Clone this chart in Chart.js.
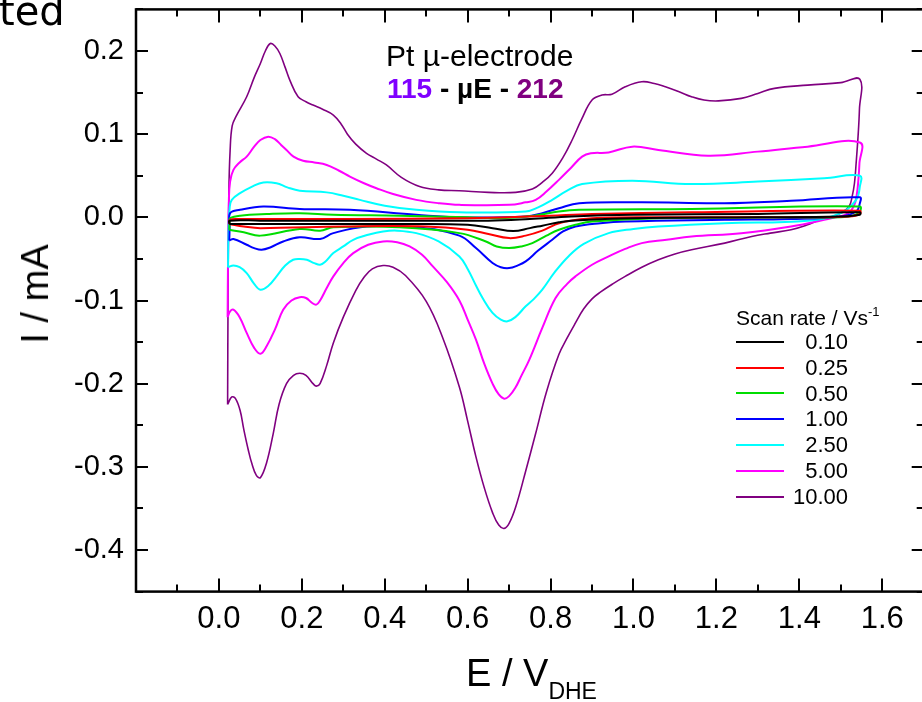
<!DOCTYPE html>
<html>
<head>
<meta charset="utf-8">
<script src="https://cdn.jsdelivr.net/npm/chart.js@4.4.0/dist/chart.umd.min.js"></script>
<style>
  body { margin: 0; width: 922px; height: 702px; overflow: hidden; position: relative; background: #fff;
         font-family: "Liberation Sans", Arial, sans-serif; }
  #wrap { position: absolute; left: 0; top: 0; width: 930px; height: 702px; }
  .txt { position: absolute; white-space: nowrap; color: #000; line-height: 1; }
  .sw { position: absolute; width: 48px; height: 2px; }
</style>
</head>
<body>
<div id="wrap"><canvas id="cv" width="930" height="702"></canvas></div>

<div class="txt" style="left:-1px; top:-9px; font-family:'DejaVu Sans'; font-size:40px;">ted</div>
<div class="txt" style="left:386px; top:41px; font-size:30px;">Pt µ-electrode</div>
<div class="txt" style="left:387px; top:75px; font-size:28px; font-weight:bold;"><span style="color:#7f00ff">115</span> - µE - <span style="color:#800080">212</span></div>
<div class="txt" style="left:35px; top:294px; font-size:38px; transform:translate(-50%,-50%) rotate(-90deg);">I / mA</div>
<div class="txt" style="left:466px; top:654px; font-size:38px;">E / V<span style="font-size:23px; vertical-align:-13px;">DHE</span></div>
<div class="txt" style="left:736px; top:305px; font-size:21px;">Scan rate / Vs<span style="font-size:13px; vertical-align:9px;">-1</span></div>
<div id="legend"></div>

<script>
// scan rates (V/s) and line colours
const scanRates = ['0.10', '0.25', '0.50', '1.00', '2.50', '5.00', '10.00'];
const lineColors = ['#000000', '#ff0000', '#00dd00', '#0000ff', '#00ffff', '#ff00ff', '#800080'];

// axis ticks
const xTickLabels = [0.0, 0.2, 0.4, 0.6, 0.8, 1.0, 1.2, 1.4, 1.6];
const yTickLabels = [-0.4, -0.3, -0.2, -0.1, 0.0, 0.1, 0.2];

// cyclic voltammograms [E / V, I / mA], anodic sweep then cathodic sweep
const cv010 = [[0.025, -0.008], [0.026, -0.004], [0.1, -0.004], [0.4, -0.004], [0.65, -0.004], [0.75, -0.002],
  [0.85, 0.001], [1.0, 0.003], [1.3, 0.004], [1.546, 0.006],
  [1.546, 0.003], [1.5, 0.001], [1.3, 0.0], [1.0, -0.001], [0.85, -0.004], [0.82, -0.006], [0.78, -0.010],
  [0.75, -0.013], [0.71, -0.0165], [0.66, -0.013], [0.6, -0.009], [0.45, -0.008], [0.3, -0.008],
  [0.1, -0.008], [0.025, -0.008]];

const cv025 = [[0.025, -0.008], [0.026, -0.003], [0.05, -0.002], [0.3, -0.002], [0.6, -0.001], [0.7, 0.0],
  [0.8, 0.002], [0.9, 0.004], [1.14, 0.006], [1.546, 0.008],
  [1.546, 0.004], [1.52, 0.001], [1.4, 0.0], [1.06, 0.0], [0.9, -0.001], [0.836, -0.005], [0.81, -0.009],
  [0.78, -0.016], [0.74, -0.022], [0.70, -0.025], [0.65, -0.020], [0.6, -0.015], [0.5, -0.011],
  [0.3, -0.011], [0.1, -0.013], [0.06, -0.011], [0.025, -0.008]];

const cv050 = [[0.025, -0.015], [0.026, -0.005], [0.027, -0.001], [0.051, 0.002], [0.115, 0.004], [0.195, 0.005],
  [0.276, 0.003], [0.436, 0.002], [0.6, 0.0], [0.676, -0.001], [0.76, 0.002], [0.82, 0.007], [0.869, 0.009],
  [1.14, 0.010], [1.546, 0.013],
  [1.546, 0.007], [1.53, 0.002], [1.50, 0.0], [1.38, 0.0], [1.06, -0.001], [0.9, -0.005], [0.86, -0.009],
  [0.82, -0.015], [0.79, -0.022], [0.756, -0.031], [0.73, -0.035], [0.70, -0.037], [0.67, -0.035],
  [0.644, -0.029], [0.58, -0.019], [0.436, -0.012], [0.276, -0.012], [0.244, -0.016], [0.195, -0.014],
  [0.1, -0.022], [0.06, -0.018], [0.025, -0.015]];

const cv100 = [[0.025, -0.028], [0.026, -0.010], [0.027, 0.005], [0.051, 0.009], [0.107, 0.013], [0.195, 0.010],
  [0.316, 0.009], [0.476, 0.003], [0.58, 0.0], [0.74, 0.001], [0.78, 0.005], [0.82, 0.011], [0.869, 0.017],
  [1.02, 0.018], [1.22, 0.017], [1.38, 0.020], [1.546, 0.024],
  [1.546, 0.017], [1.537, 0.007], [1.50, 0.001], [1.38, -0.002], [1.22, -0.003], [0.98, -0.005], [0.92, -0.007],
  [0.86, -0.011], [0.83, -0.017], [0.804, -0.027], [0.77, -0.040], [0.74, -0.053], [0.72, -0.058],
  [0.70, -0.061], [0.68, -0.060], [0.66, -0.055], [0.62, -0.037], [0.58, -0.022], [0.476, -0.012],
  [0.356, -0.011], [0.276, -0.019], [0.244, -0.026], [0.195, -0.024], [0.155, -0.029], [0.125, -0.036],
  [0.103, -0.039], [0.085, -0.037], [0.067, -0.033], [0.035, -0.026], [0.025, -0.028]];

const cv250 = [[0.022, -0.060], [0.023, -0.020], [0.026, 0.012], [0.031, 0.021], [0.051, 0.029], [0.08, 0.037],
  [0.107, 0.042], [0.139, 0.041], [0.165, 0.036], [0.195, 0.032], [0.26, 0.030], [0.3, 0.026], [0.34, 0.021],
  [0.4, 0.014], [0.476, 0.009], [0.58, 0.006], [0.74, 0.007], [0.77, 0.012], [0.804, 0.021], [0.84, 0.032],
  [0.876, 0.040], [0.997, 0.044], [1.14, 0.040], [1.3, 0.043], [1.46, 0.047], [1.546, 0.050],
  [1.546, 0.037], [1.537, 0.021], [1.50, 0.005], [1.42, -0.004], [1.22, -0.007], [1.06, -0.011], [1.0, -0.014],
  [0.94, -0.019], [0.88, -0.032], [0.843, -0.047], [0.81, -0.066], [0.78, -0.087], [0.76, -0.098],
  [0.74, -0.107], [0.715, -0.120], [0.696, -0.125], [0.68, -0.123], [0.66, -0.115], [0.636, -0.097],
  [0.62, -0.082], [0.6, -0.062], [0.58, -0.047], [0.53, -0.029], [0.476, -0.019], [0.43, -0.016],
  [0.396, -0.017], [0.36, -0.021], [0.324, -0.027], [0.3, -0.035], [0.276, -0.043], [0.255, -0.054],
  [0.244, -0.057], [0.23, -0.055], [0.212, -0.051], [0.195, -0.050], [0.179, -0.051], [0.16, -0.058],
  [0.139, -0.071], [0.12, -0.082], [0.1, -0.087], [0.085, -0.080], [0.067, -0.067], [0.05, -0.060],
  [0.035, -0.058], [0.022, -0.060]];

const cv500 = [[0.021, -0.120], [0.022, -0.050], [0.024, 0.020], [0.027, 0.043], [0.035, 0.057], [0.05, 0.066],
  [0.067, 0.073], [0.085, 0.085], [0.1, 0.093], [0.119, 0.097], [0.135, 0.094], [0.15, 0.087], [0.163, 0.081],
  [0.18, 0.073], [0.203, 0.068], [0.23, 0.066], [0.26, 0.063], [0.29, 0.056], [0.316, 0.049], [0.35, 0.041],
  [0.38, 0.035], [0.42, 0.028], [0.476, 0.021], [0.53, 0.017], [0.58, 0.015], [0.70, 0.015], [0.74, 0.018],
  [0.764, 0.021], [0.79, 0.031], [0.82, 0.045], [0.85, 0.060], [0.876, 0.073], [0.897, 0.077], [0.94, 0.078],
  [0.997, 0.085], [1.06, 0.081], [1.18, 0.074], [1.3, 0.079], [1.42, 0.085], [1.546, 0.090],
  [1.545, 0.065], [1.541, 0.037], [1.535, 0.018], [1.525, 0.008], [1.51, 0.003], [1.46, -0.003],
  [1.38, -0.011], [1.26, -0.019], [1.14, -0.023], [1.08, -0.027], [1.02, -0.031], [0.98, -0.038],
  [0.94, -0.047], [0.9, -0.057], [0.86, -0.071], [0.84, -0.080], [0.812, -0.097], [0.78, -0.133],
  [0.748, -0.172], [0.73, -0.190], [0.715, -0.205], [0.70, -0.215], [0.688, -0.218], [0.675, -0.213],
  [0.66, -0.200], [0.64, -0.176], [0.62, -0.147], [0.6, -0.123], [0.58, -0.100], [0.55, -0.078],
  [0.516, -0.059], [0.49, -0.045], [0.46, -0.035], [0.43, -0.030], [0.396, -0.029], [0.36, -0.033],
  [0.324, -0.043], [0.3, -0.055], [0.276, -0.071], [0.26, -0.085], [0.244, -0.100], [0.235, -0.105],
  [0.225, -0.103], [0.21, -0.097], [0.195, -0.096], [0.175, -0.100], [0.155, -0.111], [0.135, -0.135],
  [0.115, -0.155], [0.1, -0.164], [0.085, -0.157], [0.067, -0.139], [0.05, -0.120], [0.035, -0.111],
  [0.027, -0.113], [0.021, -0.120]];

const cv1000 = [[0.021, -0.225], [0.022, -0.100], [0.024, 0.030], [0.027, 0.080], [0.032, 0.110], [0.042, 0.122],
  [0.067, 0.145], [0.085, 0.168], [0.1, 0.185], [0.112, 0.200], [0.124, 0.209], [0.135, 0.206], [0.147, 0.197],
  [0.16, 0.180], [0.171, 0.165], [0.191, 0.145], [0.21, 0.139], [0.227, 0.135], [0.25, 0.130], [0.276, 0.123],
  [0.295, 0.112], [0.31, 0.100], [0.33, 0.088], [0.356, 0.077], [0.38, 0.070], [0.404, 0.063], [0.44, 0.048],
  [0.484, 0.037], [0.53, 0.033], [0.58, 0.032], [0.65, 0.030], [0.716, 0.030], [0.756, 0.034], [0.78, 0.042],
  [0.804, 0.053], [0.83, 0.072], [0.852, 0.093], [0.875, 0.118], [0.9, 0.141], [0.924, 0.147], [0.948, 0.148],
  [0.98, 0.157], [1.02, 0.163], [1.05, 0.161], [1.077, 0.157], [1.11, 0.151], [1.14, 0.145], [1.17, 0.141],
  [1.205, 0.140], [1.26, 0.143], [1.3, 0.149], [1.34, 0.155], [1.42, 0.159], [1.5, 0.162], [1.546, 0.166],
  [1.545, 0.130], [1.542, 0.100], [1.537, 0.065], [1.533, 0.041], [1.527, 0.024], [1.52, 0.013], [1.5, 0.005],
  [1.48, 0.001], [1.45, -0.003], [1.42, -0.009], [1.38, -0.015], [1.33, -0.019], [1.285, -0.023],
  [1.22, -0.031], [1.14, -0.039], [1.1, -0.044], [1.06, -0.051], [1.02, -0.060], [0.98, -0.071],
  [0.95, -0.080], [0.92, -0.090], [0.9, -0.098], [0.88, -0.110], [0.86, -0.127], [0.84, -0.145],
  [0.82, -0.165], [0.79, -0.210], [0.764, -0.260], [0.74, -0.305], [0.716, -0.348], [0.70, -0.368],
  [0.688, -0.374], [0.675, -0.370], [0.66, -0.355], [0.64, -0.325], [0.62, -0.288], [0.6, -0.245],
  [0.58, -0.204], [0.54, -0.145], [0.5, -0.101], [0.45, -0.070], [0.42, -0.060], [0.396, -0.058],
  [0.37, -0.062], [0.35, -0.072], [0.33, -0.088], [0.3, -0.120], [0.276, -0.151], [0.26, -0.178],
  [0.244, -0.200], [0.235, -0.203], [0.227, -0.200], [0.21, -0.190], [0.195, -0.1875], [0.18, -0.190],
  [0.163, -0.200], [0.145, -0.225], [0.131, -0.260], [0.115, -0.295], [0.1, -0.313], [0.09, -0.310],
  [0.08, -0.297], [0.071, -0.280], [0.06, -0.255], [0.051, -0.232], [0.04, -0.218], [0.031, -0.216],
  [0.021, -0.225]];

const curves = [cv010, cv025, cv050, cv100, cv250, cv500, cv1000];

// legend built from the same arrays
const legendBox = document.getElementById('legend');
scanRates.forEach(function (rate, i) {
    const cy = 341.7 + i * 25.8;
    const sw = document.createElement('div');
    sw.className = 'sw';
    sw.style.left = '736px';
    sw.style.top = (cy - 1) + 'px';
    sw.style.background = lineColors[i];
    legendBox.appendChild(sw);
    const lab = document.createElement('div');
    lab.className = 'txt';
    lab.style.fontSize = '22px';
    lab.style.right = (922 - 848) + 'px';
    lab.style.top = (cy - 10.7) + 'px';
    lab.textContent = rate;
    legendBox.appendChild(lab);
});

// frame with inward major/minor ticks on all four sides
const frameTicks = {
    id: 'frameTicks',
    afterDraw: function (chart) {
        const ctx = chart.ctx;
        const a = chart.chartArea;
        const sx = chart.scales.x;
        const sy = chart.scales.y;
        ctx.save();
        ctx.strokeStyle = '#000';
        ctx.lineWidth = 2.5;
        ctx.strokeRect(a.left, a.top, a.right - a.left, a.bottom - a.top);
        ctx.lineWidth = 2;
        ctx.beginPath();
        for (let k = -2; k <= 17; k++) {
            const px = Math.round(sx.getPixelForValue(k / 10));
            const len = (k % 2 === 0) ? 13 : 7;
            ctx.moveTo(px, a.bottom); ctx.lineTo(px, a.bottom - len);
            ctx.moveTo(px, a.top); ctx.lineTo(px, a.top + len);
        }
        for (let k = -9; k <= 5; k++) {
            const py = Math.round(sy.getPixelForValue(k / 20));
            const len = (k % 2 === 0) ? 12 : 7;
            ctx.moveTo(a.left, py); ctx.lineTo(a.left + len, py);
            ctx.moveTo(a.right, py); ctx.lineTo(a.right - len, py);
        }
        ctx.stroke();
        ctx.restore();
    }
};

function near(list, v) {
    return list.some(function (t) { return Math.abs(t - v) < 1e-6; });
}

function fmt(v) {
    return Math.abs(v) < 1e-9 ? '0.0' : Number(v).toFixed(1);
}

new Chart(document.getElementById('cv'), {
    type: 'scatter',
    data: {
        datasets: curves.map(function (pts, i) {
            return {
                label: scanRates[i],
                data: pts.map(function (p) { return { x: p[0], y: p[1] }; }),
                showLine: true,
                borderColor: lineColors[i],
                borderWidth: i === 6 ? 1.6 : 2,
                pointRadius: 0,
                tension: 0.4,
                fill: false
            };
        })
    },
    options: {
        responsive: false,
        animation: false,
        layout: { padding: { left: 0, right: 6.3, top: 9.4, bottom: 0 } },
        plugins: {
            legend: { display: false },
            tooltip: { enabled: false }
        },
        scales: {
            x: {
                type: 'linear',
                min: -0.2,
                max: 1.7,
                grid: { display: false, drawTicks: false },
                border: { display: false },
                afterFit: function (s) {
                    s.height = 110.4;
                    s.paddingLeft = 0;
                    s.paddingRight = 0;
                },
                ticks: {
                    stepSize: 0.1,
                    padding: 9,
                    color: '#000',
                    maxRotation: 0,
                    autoSkip: false,
                    font: { family: 'Liberation Sans', size: 31 },
                    callback: function (v) {
                        return near(xTickLabels, v) ? fmt(v) : '';
                    }
                }
            },
            y: {
                type: 'linear',
                min: -0.45,
                max: 0.25,
                grid: { display: false, drawTicks: false },
                border: { display: false },
                afterFit: function (s) {
                    s.width = 136;
                    s.paddingTop = 0;
                    s.paddingBottom = 0;
                },
                ticks: {
                    stepSize: 0.05,
                    padding: 12,
                    color: '#000',
                    autoSkip: false,
                    font: { family: 'Liberation Sans', size: 29 },
                    callback: function (v) {
                        return near(yTickLabels, v) ? fmt(v) : '';
                    }
                }
            }
        }
    },
    plugins: [frameTicks]
});
</script>
</body>
</html>
